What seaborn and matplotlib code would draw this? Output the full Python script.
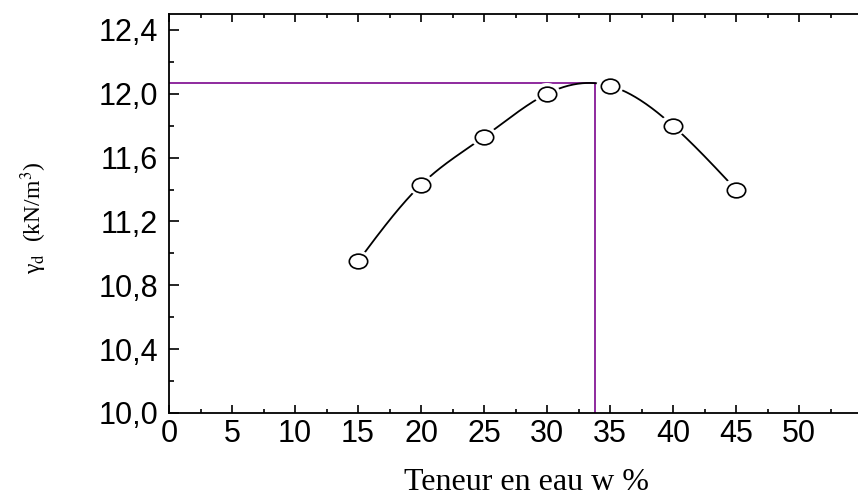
import numpy as np
import pandas as pd
import matplotlib
matplotlib.use("Agg")
import matplotlib.pyplot as plt
from matplotlib.path import Path
from matplotlib.ticker import FixedLocator, MultipleLocator
import seaborn as sns

# Proctor test: dry unit weight vs water content
water_content = [15, 20, 25, 30, 35, 40, 45]
dry_unit_weight = [10.95, 11.43, 11.73, 12.00, 12.05, 11.80, 11.40]

# Optimum read on the compaction curve
w_opt = 33.8
gamma_opt = 12.07

x_ticks = [0, 5, 10, 15, 20, 25, 30, 35, 40, 45, 50]
x_tick_labels = ["0", "5", "10", "15", "20", "25", "30", "35", "40", "45", "50"]
y_ticks = [10.0, 10.4, 10.8, 11.2, 11.6, 12.0, 12.4]
y_tick_labels = ["10,0", "10,4", "10,8", "11,2", "11,6", "12,0", "12,4"]

x_label = "Teneur en eau w %"
y_label = "γ$_\\mathrm{d}$  (kN/m$^3$)"


def natural_spline(x, y, xs):
    """Evaluate a natural cubic spline through (x, y) at xs."""
    x = np.asarray(x, float)
    y = np.asarray(y, float)
    n = len(x)
    h = np.diff(x)
    A = np.zeros((n, n))
    r = np.zeros(n)
    A[0, 0] = A[-1, -1] = 1.0
    for i in range(1, n - 1):
        A[i, i - 1] = h[i - 1]
        A[i, i] = 2 * (h[i - 1] + h[i])
        A[i, i + 1] = h[i]
        r[i] = 3 * ((y[i + 1] - y[i]) / h[i] - (y[i] - y[i - 1]) / h[i - 1])
    c = np.linalg.solve(A, r)
    b = (y[1:] - y[:-1]) / h - h * (2 * c[:-1] + c[1:]) / 3
    d = (c[1:] - c[:-1]) / (3 * h)
    idx = np.clip(np.searchsorted(x, xs) - 1, 0, n - 2)
    t = xs - x[idx]
    return y[idx] + b[idx] * t + c[idx] * t ** 2 + d[idx] * t ** 3


sns.set_theme(style="ticks")
plt.rcParams["font.family"] = ["Liberation Sans", "DejaVu Sans"]
plt.rcParams["mathtext.fontset"] = "stix"

fig = plt.figure(figsize=(8.58, 4.97), dpi=100)
ax = fig.add_axes([169 / 858, 84 / 497, 693 / 858, 399 / 497])

# smooth connecting line through the measured points
xs = np.linspace(water_content[0], water_content[-1], 400)
curve = pd.DataFrame({"w": xs, "g": natural_spline(water_content, dry_unit_weight, xs)})
sns.lineplot(data=curve, x="w", y="g", ax=ax, color="black", linewidth=1.3, zorder=2)

# optimum guide lines
purple = "#8E2A9E"
ax.plot([0, w_opt], [gamma_opt, gamma_opt], color=purple, linewidth=1.4, zorder=1)
ax.plot([w_opt, w_opt], [10.0, gamma_opt], color=purple, linewidth=1.4, zorder=1)

# slightly flattened open circles, with a white halo that breaks the line
circle = Path.unit_circle()
ellipse = Path(circle.vertices * np.array([1.0, 0.8]), circle.codes)
pts = pd.DataFrame({"w": water_content, "g": dry_unit_weight})
sns.scatterplot(data=pts, x="w", y="g", ax=ax, marker=ellipse, s=380,
                color="white", edgecolor="none", linewidth=0, zorder=3)
sns.scatterplot(data=pts, x="w", y="g", ax=ax, marker=ellipse, s=175,
                facecolor="white", edgecolor="black", linewidth=1.2, zorder=4)

ax.set_xlim(0, 55)
ax.set_ylim(10.0, 12.5)
ax.xaxis.set_major_locator(FixedLocator(x_ticks))
ax.set_xticklabels(x_tick_labels)
ax.xaxis.set_minor_locator(MultipleLocator(2.5))
ax.yaxis.set_major_locator(FixedLocator(y_ticks))
ax.set_yticklabels(y_tick_labels)
ax.yaxis.set_minor_locator(MultipleLocator(0.2))

for s in ["left", "bottom", "top"]:
    ax.spines[s].set_linewidth(1.3)
    ax.spines[s].set_color("black")
ax.spines["right"].set_visible(False)

ax.tick_params(axis="both", which="both", direction="in", color="black",
               width=1.2, labelsize=22, labelcolor="black")
ax.tick_params(axis="x", which="major", length=5.8, pad=4, top=True)
ax.tick_params(axis="x", which="minor", length=2.9, top=True)
ax.tick_params(axis="y", which="major", length=7.2, pad=8, right=False)
ax.tick_params(axis="y", which="minor", length=3.6, right=False)

ax.set_xlabel(x_label, fontfamily="Liberation Serif", fontsize=23, color="black")
ax.xaxis.set_label_coords((527 - 169) / 693, -55 / 399)
ax.set_ylabel(y_label, fontfamily="Liberation Serif", fontsize=17, color="black")
ax.yaxis.set_label_coords(-120 / 693, 0.49)

fig.savefig("out.png", dpi=100)
